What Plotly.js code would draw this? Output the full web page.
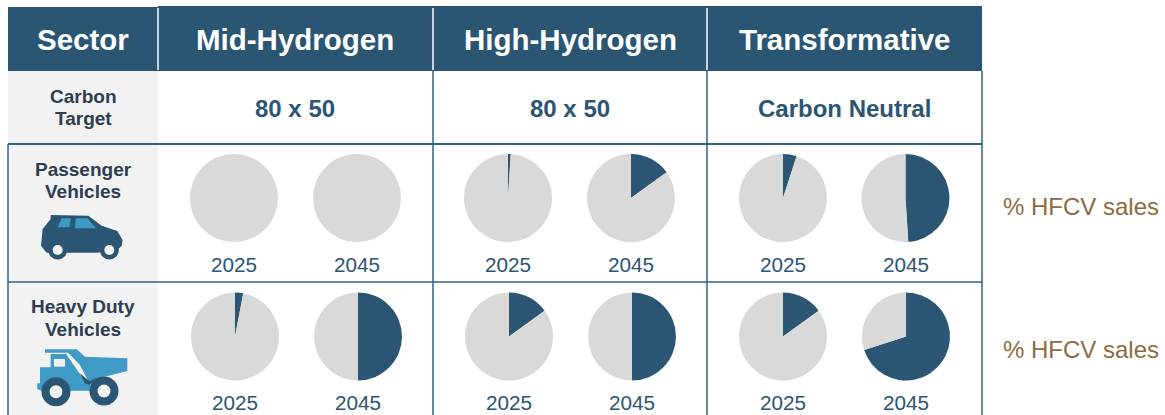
<!DOCTYPE html>
<html><head><meta charset="utf-8">
<script src="https://cdn.plot.ly/plotly-3.0.1.min.js"></script>
<style>html,body{margin:0;padding:0;background:#fff;overflow:hidden}#c{width:1165px;height:415px}</style>
</head><body><div id="c"></div>
<script>
// ---- data ----
const headers = ["Sector", "Mid-Hydrogen", "High-Hydrogen", "Transformative"];
const targetLabel = ["Carbon", "Target"];
const targets = ["80 x 50", "80 x 50", "Carbon Neutral"];
const passengerLabel = ["Passenger", "Vehicles"];
const heavyLabel = ["Heavy Duty", "Vehicles"];
const years = ["2025", "2045", "2025", "2045", "2025", "2045"];
const passengerShare = [0, 0, 1, 15, 5, 49];
const heavyShare = [3, 50, 15, 50, 15, 70];
const sideNote = "% HFCV sales";

// ---- layout constants ----
const W = 1165, H = 415;
const DARK = "#2a5673", GREY = "#d9d9d9", LINE = "#2f6284", LIGHT = "#3f9ac5", PANEL = "#f2f2f2", INK = "#2c3e50", BROWN = "#8c6b3f";
const FONT = "Liberation Sans, Arial, sans-serif";
const X = v => v / W, Y = v => 1 - v / H;
const row1X = [234, 357, 508, 631, 783, 905.5], row2X = [235, 358, 509, 632, 783, 906];
const R = 44;

const pie = (share, cx, cy) => ({
  type: "pie", values: [share, 100 - share], sort: false, direction: "clockwise", rotation: 0,
  textinfo: "none", hoverinfo: "skip", showlegend: false,
  marker: {colors: [DARK, GREY], line: {width: 0}},
  domain: {x: [X(cx - R), X(cx + R)], y: [Y(cy + R), Y(cy - R)]}
});
const data = [
  ...passengerShare.map((s, i) => pie(s, row1X[i], 198)),
  ...heavyShare.map((s, i) => pie(s, row2X[i], 336.5))
];

const base = {xref: "paper", yref: "paper"};
const rect = (x0, y0, x1, y1, color) => ({...base, type: "rect", x0: X(x0), x1: X(x1), y0: Y(y0), y1: Y(y1), fillcolor: color, line: {width: 0}, layer: "below"});
const seg = (x0, y0, x1, y1, color, w) => ({...base, type: "line", x0: X(x0), x1: X(x1), y0: Y(y0), y1: Y(y1), line: {color, width: w}, layer: "below"});
const poly = (pts, color) => ({...base, type: "path", path: "M" + pts.map(p => X(p[0]) + "," + Y(p[1])).join("L") + "Z", fillcolor: color, line: {width: 0}, layer: "below"});
const circ = (cx, cy, r, color) => ({...base, type: "circle", x0: X(cx - r), x1: X(cx + r), y0: Y(cy + r), y1: Y(cy - r), fillcolor: color, line: {width: 0}, layer: "below"});
const carP = (x, y) => [30 + x / 3, 205 + y / 3];
const trkP = (x, y) => [30 + x / 3, 340 + y / 3];

const shapes = [
  rect(8, 71, 158, 415, PANEL),
  rect(8, 7, 982, 71, DARK),
  rect(158, 6, 982, 8, DARK),
  seg(158, 8, 158, 70, "#ffffff", 1.5),
  seg(433, 8, 433, 70, "#ffffff", 1.5),
  seg(707, 8, 707, 70, "#ffffff", 1.5),
  seg(433, 71, 433, 415, LINE, 1.5),
  seg(707, 71, 707, 415, LINE, 1.5),
  seg(982, 71, 982, 415, LINE, 1.5),
  seg(8, 144, 8, 415, LINE, 1.5),
  seg(8, 144, 982, 144, LINE, 2),
  seg(8, 282, 982, 282, LINE, 1.5),
  // car icon
  poly([[62,30],[175,32],[215,62],[262,78],[278,105],[275,122],[262,135],[200,143],[110,143],[50,143],[33,122],[38,72],[62,42]].map(p => carP(...p)), DARK),
  circ(...carP(83, 135), 9.5, DARK), circ(...carP(238, 135), 9.5, DARK),
  circ(...carP(83, 135), 5, PANEL), circ(...carP(238, 135), 5, PANEL),
  poly([[95,40],[123,40],[118,67],[83,67]].map(p => carP(...p)), LIGHT),
  poly([[137,40],[172,40],[198,70],[135,70]].map(p => carP(...p)), LIGHT),
  // truck icon
  poly([[30,82],[62,82],[62,42],[108,42],[152,105],[178,132],[195,152],[35,152],[22,148],[22,130],[30,130]].map(p => trkP(...p)), LIGHT),
  poly([[45,28],[140,28],[165,50],[292,55],[292,93],[200,116],[178,130],[150,75],[115,38],[45,38]].map(p => trkP(...p)), LIGHT),
  poly([[72,57],[105,57],[105,80],[72,80]].map(p => trkP(...p)), PANEL),
  poly([[150,100],[178,124],[205,112],[180,135],[165,130]].map(p => trkP(...p)), DARK),
  circ(...trkP(78, 155), 14.5, DARK), circ(...trkP(222, 153), 14.5, DARK),
  circ(...trkP(78, 155), 6.5, PANEL), circ(...trkP(222, 153), 6.5, PANEL)
];

const note = (text, x, y, size, color, bold) => ({
  xref: "paper", yref: "paper", x: X(x), y: Y(y), xanchor: "center", yanchor: "middle",
  text: bold ? "<b>" + text + "</b>" : text, showarrow: false,
  font: {family: FONT, size, color}
});
const headerX = [83, 295, 570, 845];
const targetX = [295, 570, 844.5];
const annotations = [
  ...headers.map((t, i) => note(t, headerX[i], 39.5, 29.5, "#ffffff", true)),
  note(targetLabel[0], 83, 96.5, 19, INK, true), note(targetLabel[1], 83, 118.5, 19, INK, true),
  ...targets.map((t, i) => note(t, targetX[i], 108.5, 24, DARK, true)),
  note(passengerLabel[0], 83, 169.5, 19, INK, true), note(passengerLabel[1], 83, 191.5, 19, INK, true),
  note(heavyLabel[0], 83, 306.5, 19, INK, true), note(heavyLabel[1], 83, 329.5, 19, INK, true),
  ...years.map((t, i) => note(t, row1X[i], 264, 20.7, DARK, false)),
  ...years.map((t, i) => note(t, row2X[i], 402, 20.7, DARK, false)),
  note(sideNote, 1081, 206.5, 24, BROWN, false),
  note(sideNote, 1081, 349.5, 24, BROWN, false)
];

Plotly.newPlot("c", data, {
  width: W, height: H, margin: {l: 0, r: 0, t: 0, b: 0},
  paper_bgcolor: "#ffffff", plot_bgcolor: "#ffffff", showlegend: false,
  shapes, annotations, font: {family: FONT}
}, {displayModeBar: false, staticPlot: true});
</script></body></html>
